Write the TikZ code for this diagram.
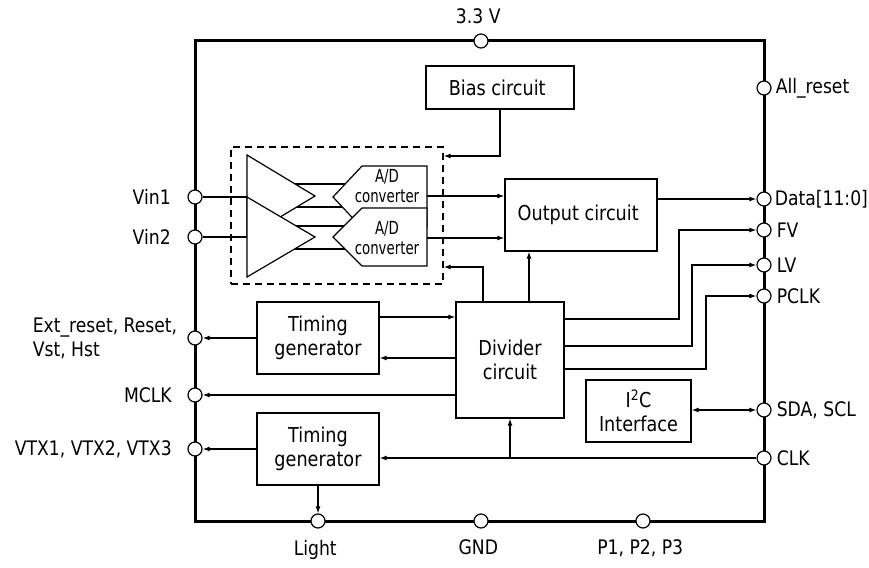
\documentclass[tikz,border=0pt]{standalone}
\usepackage{fontspec}
\setmainfont{DejaVu Sans}[FakeStretch=0.86]
\newfontfamily\adcfont{DejaVu Sans}[FakeStretch=0.74]
\usetikzlibrary{arrows.meta, positioning}
\tikzset{
	blocknode/.style={
			draw=black,
			line width=1.2pt,
			fill=white,
			inner sep=0pt,
			align=center,
			font=\fontsize{20.5}{24}\selectfont
		},
	pinnode/.style={
			circle,
			draw=black,
			line width=1.2pt,
			fill=white,
			minimum size=14pt,
			inner sep=0pt
		},
	labelnode/.style={
			inner sep=0pt,
			align=left,
			font=\fontsize{20}{24}\selectfont
		},
	adcnode/.style={
			inner sep=0pt,
			align=center,
			font=\adcfont\fontsize{18}{20}\selectfont
		},
	conn/.style={
			line width=1.2pt
		},
	arr/.style={
			conn,
			-{Latex[length=7pt,width=5pt]}
		},
	dblarr/.style={
			conn,
			{Latex[length=7pt,width=5pt]}-{Latex[length=7pt,width=5pt]}
		}
}

\begin{document}
\begin{tikzpicture}[x=1pt, y=-1pt]
\useasboundingbox (0,0) rectangle (869,567);
\draw[line width=3pt] (195,41) rectangle (764,521);

    \node[pinnode] (p33) at (481,41) {};
    \node[pinnode] (pall) at (764,88) {};
    \node[pinnode] (pdata) at (764,199) {};
    \node[pinnode] (pfv) at (764,230) {};
    \node[pinnode] (plv) at (764,265) {};
    \node[pinnode] (ppclk) at (764,296) {};
    \node[pinnode] (psda) at (764,410) {};
    \node[pinnode] (pclk) at (764,458) {};
    \node[pinnode] (pvin1) at (195,197) {};
    \node[pinnode] (pvin2) at (195,237) {};
    \node[pinnode] (pext) at (195,338) {};
    \node[pinnode] (pmclk) at (195,395) {};
    \node[pinnode] (pvtx) at (195,449) {};
    \node[pinnode] (plight) at (318,521) {};
    \node[pinnode] (pgnd) at (481,521) {};
    \node[pinnode] (pp123) at (643,521) {};

    \node[labelnode, above=9pt of p33] { 3.3 V };
    \node[labelnode, right=4pt of pall] { All\_reset };
    \node[labelnode, right=3pt of pdata] { Data[11:0] };
    \node[labelnode, right=5pt of pfv] { FV };
    \node[labelnode, right=5pt of plv] { LV };
    \node[labelnode, right=5pt of ppclk] { PCLK };
    \node[labelnode, right=5pt of psda] { SDA, SCL };
    \node[labelnode, right=5pt of pclk] { CLK };
    \node[labelnode, left=11pt of pvin1] { Vin1 };
    \node[labelnode, left=11pt of pvin2] { Vin2 };
    \node[labelnode, left=10pt of pext] { Ext\_reset, Reset,\\Vst, Hst };
    \node[labelnode, left=10pt of pmclk] { MCLK };
    \node[labelnode, left=10pt of pvtx] { VTX1, VTX2, VTX3 };
    \node[labelnode, below=11pt of plight] { Light };
    \node[labelnode, below=11pt of pgnd] { GND };
    \node[labelnode, below=11pt of pp123] { P1, P2, P3 };

    \node[blocknode, minimum width=148pt, minimum height=43pt] (bias) at (500,87.5) { Bias circuit };
    \node[blocknode, minimum width=152pt, minimum height=72pt] (out) at (581,215) { Output circuit };
    \node[blocknode, minimum width=108pt, minimum height=116pt] (div) at (510,360) { Divider\\circuit };
    \node[blocknode, minimum width=122pt, minimum height=72pt] (tg1) at (318,338) { Timing\\generator };
    \node[blocknode, minimum width=122pt, minimum height=72pt] (tg2) at (318,449) { Timing\\generator };
    \node[blocknode, minimum width=105pt, minimum height=62pt] (i2c) at (638.5,411) { I\textsuperscript{2}C\\Interface };

    \node[draw=black, line width=1.2pt, dash pattern=on 7pt off 5pt, minimum width=212pt, minimum height=137pt] (amp) at (337,215.5) {};

    \draw[conn] (280,184) -- (350,184);
    \draw[conn] (285,207) -- (350,207);
    \draw[conn] (280,226) -- (350,226);
    \draw[conn] (285,249) -- (350,249);

    \draw[conn, fill=white] (247,155) -- (315,196) -- (247,237) -- cycle;
    \draw[conn, fill=white] (247,197) -- (315,237) -- (247,277) -- cycle;
    \draw[conn, fill=white] (427,166) -- (362,166) -- (333,197) -- (362,228) -- (427,228) -- cycle;
    \draw[conn, fill=white] (427,208) -- (362,208) -- (333,237) -- (362,266) -- (427,266) -- cycle;
    \node[adcnode] (adc1) at (387,186.5) { A/D\\converter };
    \node[adcnode] (adc2) at (387,238.5) { A/D\\converter };

    \coordinate (ampin1) at (247,197);
    \coordinate (ampin2) at (247,237);
    \coordinate (adout1) at (427,196);
    \coordinate (adout2) at (427,238);
    \coordinate (clkbr) at (pclk -| div.south);

    \draw[conn] (pvin1) -- (ampin1);
    \draw[conn] (pvin2) -- (ampin2);
    \draw[arr] (adout1) -- (out.west |- adout1);
    \draw[arr] (adout2) -- (out.west |- adout2);
    \draw[arr] (bias.south) |- (amp.east |- 0,156);
    \draw[arr] (div.north -| 483,0) |- (amp.east |- 0,267);
    \draw[arr] (div.north -| 529,0) -- (out.south -| 529,0);
    \draw[arr] (out.east |- pdata) -- (pdata);

    \draw[arr] (div.east |- 0,319) -- (679,319) |- (pfv);
    \draw[arr] (div.east |- 0,346) -- (692,346) |- (plv);
    \draw[arr] (div.east |- 0,369) -- (706,369) |- (ppclk);
    \draw[dblarr] (i2c.east |- psda) -- (psda);

    \draw[arr] (pclk) -- (tg2.east |- pclk);
    \draw[arr] (clkbr) -- (div.south);
    \draw[arr] (tg1.east |- 0,317) -- (div.west |- 0,317);
    \draw[arr] (div.west |- 0,358) -- (tg1.east |- 0,358);
    \draw[arr] (tg1.west) -- (pext);
    \draw[arr] (div.west |- pmclk) -- (pmclk);
    \draw[arr] (tg2.west) -- (pvtx);
    \draw[arr] (tg2.south) -- (plight);

\end{tikzpicture}
\end{document}
